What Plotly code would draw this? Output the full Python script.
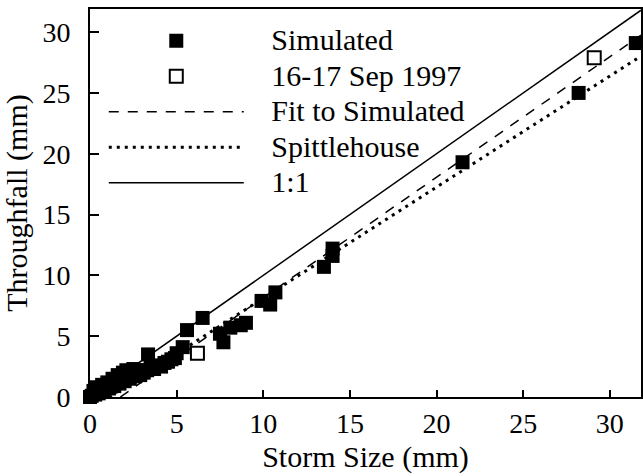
import plotly.graph_objects as go

# Simulated storms (storm size, throughfall) in mm
sim_x = [0.0, 0.1, 0.2, 0.3, 0.4, 0.5, 0.6, 0.7, 0.8, 0.9, 1.0, 1.1, 1.2, 1.3, 1.4,
         1.5, 1.6, 1.7, 1.8, 1.9, 2.0, 2.1, 2.2, 2.3, 2.5, 2.6, 2.7, 2.8, 2.9, 3.1,
         3.35, 3.3, 3.5, 3.7, 3.9, 4.1, 4.3, 4.5, 4.7, 4.9, 5.0, 5.35, 5.6, 6.5,
         7.5, 7.7, 8.1, 8.7, 9.0, 9.9, 10.4, 10.7, 13.5, 14.0, 14.0, 21.5, 28.2, 31.5]
sim_y = [0.0, 0.1, 0.5, 0.2, 0.8, 0.3, 0.5, 1.0, 0.5, 0.8, 1.2, 0.7, 1.0, 1.5, 0.9,
         1.2, 1.8, 1.1, 1.4, 2.0, 1.3, 2.2, 1.6, 1.5, 2.3, 1.7, 2.0, 2.2, 1.8, 2.0,
         3.5, 2.2, 2.4, 2.3, 2.6, 2.5, 2.8, 2.9, 3.1, 3.2, 3.6, 4.1, 5.5, 6.5,
         5.2, 4.5, 5.7, 5.9, 6.1, 7.9, 7.6, 8.6, 10.7, 11.6, 12.2, 19.3, 25.0, 29.1]

# 16-17 Sep 1997 observations
obs_x = [6.2, 29.1]
obs_y = [3.6, 27.9]

# Line endpoints
fit_x = [1.75, 31.8]
fit_y = [0.0, 29.75]
spit_x = [1.1, 31.8]
spit_y = [0.0, 28.03]
one_x = [0.0, 31.8]
one_y = [0.0, 31.8]

tick_vals = [0, 5, 10, 15, 20, 25, 30]

FONT = "Liberation Serif, Times New Roman, serif"


def leg(name):
    return '<span style="font-size:30px">\u00a0\u00a0\u00a0' + name + '</span>'


fig = go.Figure()
fig.add_trace(go.Scatter(x=sim_x, y=sim_y, mode="markers", name=leg("Simulated"),
                         marker=dict(symbol="square", size=14, color="black", line=dict(width=0)),
                         cliponaxis=False))
fig.add_trace(go.Scatter(x=obs_x, y=obs_y, mode="markers", name=leg("16-17 Sep 1997"),
                         marker=dict(symbol="square-open", size=13, color="black", line=dict(width=2, color="black")),
                         cliponaxis=False))
fig.add_trace(go.Scatter(x=fit_x, y=fit_y, mode="lines", name=leg("Fit to Simulated"),
                         line=dict(color="black", width=1.5, dash="10px,9px")))
fig.add_trace(go.Scatter(x=spit_x, y=spit_y, mode="lines", name=leg("Spittlehouse"),
                         line=dict(color="black", width=3, dash="3px,5px")))
fig.add_trace(go.Scatter(x=one_x, y=one_y, mode="lines", name=leg("1:1"),
                         line=dict(color="black", width=1.5)))

fig.update_layout(
    width=643, height=476,
    margin=dict(l=90, r=0, t=9, b=79),
    paper_bgcolor="white", plot_bgcolor="white",
    font=dict(family=FONT, size=28, color="black"),
    showlegend=True,
    legend=dict(x=0.025, y=0.977, xanchor="left", yanchor="top",
                bgcolor="rgba(0,0,0,0)", itemwidth=135,
                font=dict(family=FONT, size=25), tracegroupgap=0),
    xaxis=dict(range=[0, 31.8], tickvals=tick_vals, ticks="inside", ticklen=7, tickwidth=2,
               tickcolor="black", showline=True, linecolor="black", linewidth=2,
               mirror=True, showgrid=False, zeroline=False,
               title=dict(text="Storm Size (mm)", standoff=8, font=dict(family=FONT, size=30)),
               tickfont=dict(family=FONT, size=28)),
    yaxis=dict(range=[0, 31.9], tickvals=tick_vals, ticks="inside", ticklen=9, tickwidth=2,
               tickcolor="black", showline=True, linecolor="black", linewidth=2,
               mirror=True, showgrid=False, zeroline=False,
               title=dict(text="Throughfall (mm)", standoff=6, font=dict(family=FONT, size=30)),
               ticklabelstandoff=12,
               tickfont=dict(family=FONT, size=28)),
)

fig.write_html("out.html", config={"displayModeBar": False},
               post_script="document.body.style.margin='0';")
